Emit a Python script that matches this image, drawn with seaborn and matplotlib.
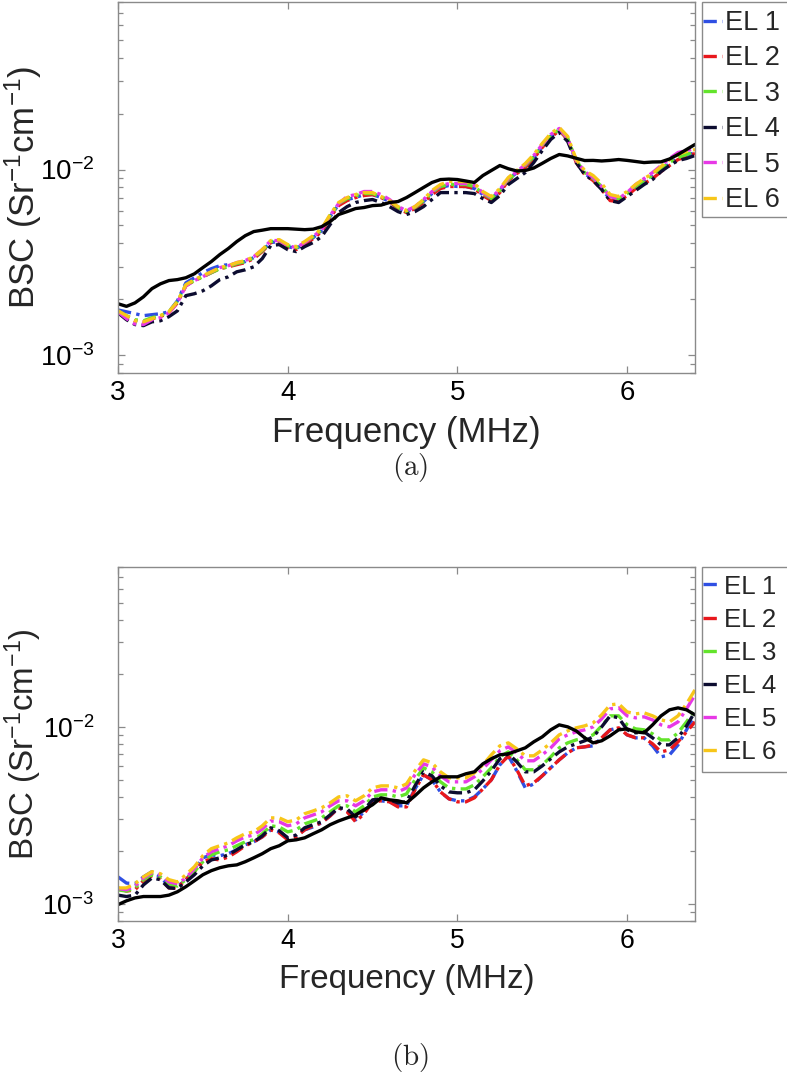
import numpy as np
import pandas as pd
import matplotlib
matplotlib.use("Agg")
import matplotlib.pyplot as plt
import seaborn as sns
from matplotlib.lines import Line2D
from matplotlib.patches import Rectangle
from matplotlib.ticker import LogLocator, FuncFormatter, NullFormatter, FixedLocator

# ---------------- data (BSC values in units of 1e-3 Sr^-1 cm^-1) ----------------
freq = [3.00, 3.05, 3.10, 3.15, 3.20, 3.25, 3.30, 3.35, 3.40, 3.45, 3.50, 3.55, 3.60, 3.65,
        3.70, 3.75, 3.80, 3.85, 3.90, 3.95, 4.00, 4.05, 4.10, 4.15, 4.20, 4.25, 4.30, 4.35,
        4.40, 4.45, 4.50, 4.55, 4.60, 4.65, 4.70, 4.75, 4.80, 4.85, 4.90, 4.95, 5.00, 5.05,
        5.10, 5.15, 5.20, 5.25, 5.30, 5.35, 5.40, 5.45, 5.50, 5.55, 5.60, 5.65, 5.70, 5.75,
        5.80, 5.85, 5.90, 5.95, 6.00, 6.05, 6.10, 6.15, 6.20, 6.25, 6.30, 6.35, 6.40]

labels = ["EL 1", "EL 2", "EL 3", "EL 4", "EL 5", "EL 6"]
ref_label = "Reference"

# panel (a)
a_ref = [1.89, 1.83, 1.91, 2.06, 2.28, 2.42, 2.52, 2.55, 2.61, 2.74, 2.96, 3.19, 3.48, 3.75,
         4.09, 4.40, 4.63, 4.71, 4.80, 4.80, 4.80, 4.77, 4.74, 4.77, 4.92, 5.24, 5.72, 5.93,
         6.16, 6.24, 6.39, 6.43, 6.64, 6.72, 7.06, 7.51, 8.00, 8.51, 8.83, 8.88, 8.83, 8.67,
         8.51, 9.28, 9.88, 10.51, 10.1, 9.82, 9.88, 10.19, 10.8, 11.47, 12.05, 11.84, 11.5, 11.18,
         11.2, 11.12, 11.2, 11.32, 11.2, 11.05, 10.9, 10.98, 11.0, 11.4, 12.05, 12.82, 13.65]
a_el1 = [1.75, 1.71, 1.67, 1.63, 1.65, 1.67, 1.71, 1.96, 2.45, 2.61, 2.78, 2.92, 3.03, 3.07,
         3.11, 3.19, 3.35, 3.65, 4.04, 4.09, 3.84, 3.75, 3.99, 4.29, 4.68, 5.58, 6.47, 6.89,
         7.06, 7.33, 7.33, 7.06, 6.72, 6.24, 5.93, 6.24, 6.72, 7.42, 8.00, 8.20, 8.10, 8.10,
         7.90, 7.33, 6.89, 7.70, 8.83, 9.63, 10.38, 11.61, 13.31, 15.07, 16.24, 14.52, 11.05, 9.51,
         8.83, 7.90, 6.89, 6.80, 7.33, 8.00, 8.61, 9.17, 10.0, 10.77, 11.47, 11.90, 12.35]
a_el2 = [1.73, 1.61, 1.53, 1.51, 1.57, 1.61, 1.69, 1.91, 2.36, 2.52, 2.64, 2.78, 2.92, 2.99,
         3.07, 3.15, 3.31, 3.61, 4.04, 4.09, 3.79, 3.70, 3.94, 4.24, 4.63, 5.51, 6.39, 6.80,
         7.06, 7.24, 7.33, 7.06, 6.72, 6.16, 5.86, 6.16, 6.64, 7.33, 7.90, 8.10, 8.10, 8.10,
         7.90, 7.24, 6.80, 7.51, 8.72, 9.51, 10.25, 11.47, 13.15, 14.89, 16.24, 14.52, 10.91, 9.40,
         8.72, 7.80, 6.80, 6.72, 7.24, 7.90, 8.40, 8.94, 9.75, 10.51, 11.32, 11.75, 12.20]
a_el3 = [1.73, 1.63, 1.55, 1.53, 1.59, 1.63, 1.71, 1.94, 2.39, 2.52, 2.64, 2.78, 2.92, 2.99,
         3.11, 3.19, 3.35, 3.65, 4.09, 4.14, 3.89, 3.79, 4.04, 4.35, 4.74, 5.65, 6.55, 6.97,
         7.24, 7.42, 7.42, 7.15, 6.80, 6.24, 5.93, 6.24, 6.80, 7.51, 8.10, 8.30, 8.30, 8.30,
         8.10, 7.42, 6.97, 7.70, 8.83, 9.63, 10.51, 11.75, 13.48, 15.26, 16.44, 14.70, 11.18, 9.63,
         8.94, 8.10, 7.15, 6.97, 7.42, 8.10, 8.72, 9.28, 10.12, 10.91, 11.61, 12.05, 12.51]
a_el4 = [1.69, 1.55, 1.46, 1.44, 1.51, 1.53, 1.61, 1.73, 2.09, 2.14, 2.22, 2.36, 2.55, 2.64,
         2.81, 2.88, 2.99, 3.31, 3.89, 3.94, 3.70, 3.61, 3.84, 4.04, 4.35, 5.05, 5.86, 6.31,
         6.64, 6.80, 6.89, 6.64, 6.31, 5.93, 5.72, 5.93, 6.31, 6.89, 7.51, 7.51, 7.51, 7.51,
         7.42, 6.97, 6.64, 7.24, 8.30, 8.94, 9.63, 10.91, 12.66, 14.52, 15.84, 14.16, 10.91, 9.40,
         8.72, 7.80, 6.80, 6.64, 7.15, 7.70, 8.30, 8.83, 9.75, 10.51, 11.18, 11.47, 11.90]
a_el5 = [1.71, 1.57, 1.47, 1.46, 1.55, 1.59, 1.69, 1.91, 2.36, 2.52, 2.64, 2.81, 2.96, 3.03,
         3.15, 3.23, 3.39, 3.70, 4.14, 4.14, 3.89, 3.79, 4.04, 4.35, 4.74, 5.65, 6.55, 7.15,
         7.33, 7.61, 7.61, 7.33, 6.89, 6.31, 6.01, 6.31, 6.89, 7.61, 8.20, 8.40, 8.40, 8.40,
         8.20, 7.51, 7.06, 7.80, 8.94, 9.75, 10.64, 11.90, 13.65, 15.45, 16.65, 14.70, 11.18, 9.75,
         9.05, 8.10, 7.15, 6.97, 7.51, 8.30, 8.94, 9.63, 10.51, 11.47, 12.35, 12.66, 12.98]
a_el6 = [1.73, 1.63, 1.53, 1.51, 1.57, 1.63, 1.71, 1.94, 2.39, 2.55, 2.68, 2.81, 2.96, 3.03,
         3.15, 3.23, 3.39, 3.70, 4.14, 4.19, 3.94, 3.84, 4.09, 4.40, 4.80, 5.72, 6.64, 7.06,
         7.33, 7.51, 7.51, 7.15, 6.80, 6.31, 6.01, 6.31, 6.89, 7.70, 8.30, 8.61, 8.61, 8.61,
         8.40, 7.61, 7.15, 7.90, 9.05, 9.88, 10.77, 12.05, 13.82, 15.64, 16.86, 15.07, 11.32, 9.88,
         9.28, 8.40, 7.33, 7.15, 7.61, 8.30, 8.94, 9.51, 10.38, 11.32, 12.05, 12.51, 12.82]

# panel (b)
b_ref = [0.99, 1.04, 1.08, 1.10, 1.10, 1.10, 1.12, 1.17, 1.25, 1.35, 1.46, 1.54, 1.60, 1.64,
         1.66, 1.73, 1.82, 1.92, 2.05, 2.13, 2.27, 2.30, 2.36, 2.49, 2.62, 2.80, 2.94, 3.06,
         3.18, 3.40, 3.63, 3.97, 3.87, 3.82, 3.72, 4.08, 4.52, 4.89, 5.22, 5.22, 5.22, 5.43,
         5.57, 6.18, 6.60, 6.95, 7.04, 7.32, 7.61, 8.23, 8.78, 9.62, 10.26, 10.0, 9.49, 8.67,
         8.12, 8.34, 8.90, 9.62, 9.74, 9.37, 9.25, 10.26, 11.54, 12.48, 12.80, 12.48, 11.69]
b_el1 = [1.42, 1.31, 1.30, 1.42, 1.52, 1.42, 1.26, 1.25, 1.37, 1.56, 1.82, 1.89, 1.87, 1.92,
         2.02, 2.16, 2.24, 2.39, 2.62, 2.55, 2.36, 2.42, 2.62, 2.72, 2.87, 3.14, 3.49, 3.35,
         2.98, 3.31, 3.77, 3.82, 3.77, 3.58, 3.58, 4.46, 5.36, 5.02, 4.29, 3.92, 3.82, 3.82,
         4.02, 4.46, 5.02, 6.10, 6.86, 5.64, 4.52, 4.76, 5.29, 5.87, 6.51, 7.13, 7.61, 7.71,
         7.81, 8.67, 9.62, 9.87, 9.01, 8.67, 8.67, 7.81, 6.77, 6.95, 7.91, 9.62, 11.69]
b_el2 = [1.23, 1.18, 1.20, 1.35, 1.44, 1.38, 1.23, 1.23, 1.37, 1.52, 1.73, 1.80, 1.77, 1.84,
         1.97, 2.13, 2.24, 2.39, 2.62, 2.52, 2.30, 2.39, 2.62, 2.76, 2.87, 3.14, 3.49, 3.31,
         2.91, 3.23, 3.77, 3.82, 3.77, 3.53, 3.53, 4.41, 5.36, 5.02, 4.29, 3.92, 3.77, 3.77,
         3.97, 4.46, 5.02, 6.10, 6.86, 5.72, 4.64, 4.83, 5.29, 5.87, 6.51, 7.13, 7.61, 7.71,
         7.91, 8.67, 9.62, 9.87, 9.01, 8.67, 8.67, 8.02, 7.22, 7.41, 8.23, 9.37, 10.67]
b_el3 = [1.20, 1.18, 1.23, 1.37, 1.46, 1.42, 1.30, 1.26, 1.37, 1.52, 1.73, 1.89, 1.97, 2.02,
         2.13, 2.24, 2.30, 2.49, 2.76, 2.72, 2.55, 2.62, 2.83, 2.94, 3.06, 3.31, 3.58, 3.58,
         3.31, 3.58, 4.02, 4.13, 4.13, 4.02, 4.18, 5.02, 5.87, 5.57, 4.89, 4.52, 4.46, 4.46,
         4.70, 5.22, 5.87, 6.77, 7.22, 6.51, 5.72, 5.72, 6.10, 6.77, 7.61, 8.12, 8.44, 8.67,
         9.01, 10.13, 11.54, 11.54, 10.26, 9.74, 9.62, 9.13, 8.44, 8.44, 9.25, 10.67, 12.48]
b_el4 = [1.12, 1.10, 1.12, 1.28, 1.40, 1.37, 1.23, 1.22, 1.33, 1.46, 1.64, 1.77, 1.82, 1.89,
         2.02, 2.16, 2.24, 2.42, 2.69, 2.59, 2.36, 2.45, 2.69, 2.80, 2.91, 3.18, 3.49, 3.44,
         3.10, 3.40, 3.87, 3.92, 3.87, 3.72, 3.77, 4.64, 5.57, 5.29, 4.64, 4.29, 4.24, 4.24,
         4.41, 4.95, 5.64, 6.60, 7.04, 6.34, 5.57, 5.57, 6.02, 6.60, 7.22, 7.71, 8.02, 8.34,
         8.78, 10.0, 11.54, 11.24, 9.62, 9.25, 9.37, 8.67, 7.91, 7.91, 8.67, 10.13, 12.15]
b_el5 = [1.22, 1.20, 1.26, 1.40, 1.50, 1.46, 1.33, 1.30, 1.40, 1.58, 1.82, 1.97, 2.05, 2.13,
         2.27, 2.39, 2.45, 2.65, 2.94, 2.91, 2.76, 2.83, 3.06, 3.18, 3.31, 3.58, 3.82, 3.82,
         3.58, 3.82, 4.29, 4.41, 4.41, 4.29, 4.52, 5.36, 6.18, 5.94, 5.29, 4.89, 4.89, 4.89,
         5.22, 5.79, 6.51, 7.32, 7.71, 7.13, 6.43, 6.43, 6.95, 7.61, 8.56, 9.01, 9.37, 9.62,
         10.0, 11.10, 12.64, 12.80, 11.54, 11.24, 11.39, 10.95, 10.26, 10.0, 10.67, 12.64, 15.16]
b_el6 = [1.23, 1.23, 1.30, 1.42, 1.52, 1.48, 1.37, 1.33, 1.46, 1.62, 1.87, 2.05, 2.13, 2.21,
         2.36, 2.49, 2.55, 2.76, 3.06, 3.06, 2.91, 2.98, 3.23, 3.35, 3.49, 3.72, 4.02, 4.08,
         3.82, 4.08, 4.52, 4.64, 4.64, 4.52, 4.76, 5.64, 6.51, 6.26, 5.57, 5.15, 5.15, 5.15,
         5.50, 6.10, 6.95, 7.81, 8.12, 7.51, 6.86, 6.86, 7.41, 8.12, 9.01, 9.49, 9.87, 10.13,
         10.53, 11.69, 13.31, 13.49, 12.15, 11.84, 12.00, 11.54, 10.95, 10.67, 11.54, 13.49, 16.18]

UNIT = 1e-3
xticks = [3, 4, 5, 6]
xtick_labels = ["3", "4", "5", "6"]
xlim = (3.0, 6.4)
ylim = (8e-4, 8e-2)
captions = ["(a)", "(b)"]

# ---------------- style ----------------
colors = ["#2f4fe3", "#e8171c", "#63e42b", "#0c0c30", "#e738e6", "#f7c619"]
ref_color = "#000000"
el_dash = (4.0, 1.6, 1.0, 1.6)
frame_color = "#8a8a8a"

sns.set_style("ticks")
plt.rcParams["font.family"] = ["Liberation Sans", "DejaVu Sans"]
plt.rcParams["mathtext.fontset"] = "custom"
plt.rcParams["mathtext.rm"] = "Liberation Sans"
plt.rcParams["mathtext.it"] = "Liberation Sans:italic"
plt.rcParams["mathtext.bf"] = "Liberation Sans:bold"

W, H = 787, 1087
fig = plt.figure(figsize=(W / 100, H / 100), dpi=100)


def frac_box(left, top, right, bottom):
    return [left / W, 1 - bottom / H, (right - left) / W, (bottom - top) / H]


panels = [
    dict(box=frac_box(118, 2, 695, 373), series=[a_el1, a_el2, a_el3, a_el4, a_el5, a_el6], ref=a_ref,
         scale=1.0, cap_xy=(410, 468), leg_box=(702, 2, 217), leg_top=10),
    dict(box=frac_box(118, 567, 695, 921), series=[b_el1, b_el2, b_el3, b_el4, b_el5, b_el6], ref=b_ref,
         scale=0.954, cap_xy=(410, 1058), leg_box=(702, 567, 772), leg_top=574.5),
]

palette = dict(zip(labels, colors))
palette[ref_label] = ref_color
dashes = {lab: el_dash for lab in labels}
dashes[ref_label] = ""
order = labels + [ref_label]

for i, p in enumerate(panels):
    ax = fig.add_axes(p["box"])
    rows = []
    for lab, vals in zip(labels, p["series"]):
        for f, v in zip(freq, vals):
            rows.append((lab, f, v * UNIT))
    for f, v in zip(freq, p["ref"]):
        rows.append((ref_label, f, v * UNIT))
    df = pd.DataFrame(rows, columns=["Series", "Frequency", "BSC"])

    sns.lineplot(data=df, x="Frequency", y="BSC", hue="Series", style="Series",
                 hue_order=order, style_order=order, palette=palette, dashes=dashes,
                 linewidth=2.4, estimator=None, sort=False, legend=False, ax=ax,
                 solid_joinstyle="round", dash_joinstyle="round")

    s = p["scale"]
    ax.set_yscale("log")
    ax.set_xlim(*xlim)
    ax.set_ylim(*ylim)
    ax.xaxis.set_major_locator(FixedLocator(xticks))
    ax.set_xticklabels(xtick_labels)
    ax.yaxis.set_major_locator(LogLocator(base=10))
    ax.yaxis.set_major_formatter(FuncFormatter(
        lambda v, pos: r"$\mathregular{10^{%d}}$" % int(round(np.log10(v)))))
    ax.yaxis.set_minor_locator(LogLocator(base=10, subs=np.arange(2, 10)))
    ax.yaxis.set_minor_formatter(NullFormatter())

    for sp in ax.spines.values():
        sp.set_color(frame_color)
        sp.set_linewidth(1.0)
    ax.tick_params(which="both", direction="in", top=True, right=True,
                   color=frame_color, labelcolor="black", width=0.9)
    ax.tick_params(which="major", length=5.0)
    ax.tick_params(which="minor", length=3.5)
    ax.tick_params(axis="x", which="major", labelsize=20 * s, pad=5)
    ax.tick_params(axis="y", which="major", labelsize=20 * s, pad=17)

    ax.set_xlabel("Frequency (MHz)", fontsize=25 * s)
    ax.set_ylabel(r"BSC (Sr$^{-1}$cm$^{-1}$)", fontsize=25 * s)
    hgt = p["box"][3] * H
    ax.xaxis.set_label_coords(0.5, -43 / hgt)
    ax.yaxis.set_label_coords(-74 / 577, 0.5)

    # legend frame (extends past the right edge, as in the reference)
    lx, ltop, lbot = p["leg_box"]
    rect = Rectangle((lx / W, 1 - lbot / H), 120 / W, (lbot - ltop) / H,
                     transform=fig.transFigure, facecolor="white", edgecolor=frame_color,
                     linewidth=1.0, clip_on=False, zorder=4)
    ax.add_artist(rect)

    handles = [Line2D([], [], color=c, lw=2.4, dashes=el_dash) for c in colors]
    leg = ax.legend(handles, labels, loc="upper left",
                    bbox_to_anchor=((lx + 1) / W, 1 - p["leg_top"] / H),
                    bbox_transform=fig.transFigure,
                    borderaxespad=0.0, borderpad=0.0, fontsize=19.5 * s, handlelength=0.7,
                    handletextpad=0.1, labelspacing=0.35, frameon=False)
    leg.set_zorder(5)

    cx, cy = p["cap_xy"]
    fig.text(cx / W, 1 - cy / H, r"$\mathrm{%s}$" % captions[i], fontsize=21,
             ha="center", va="center", math_fontfamily="cm")

fig.savefig("out.png", dpi=100)
